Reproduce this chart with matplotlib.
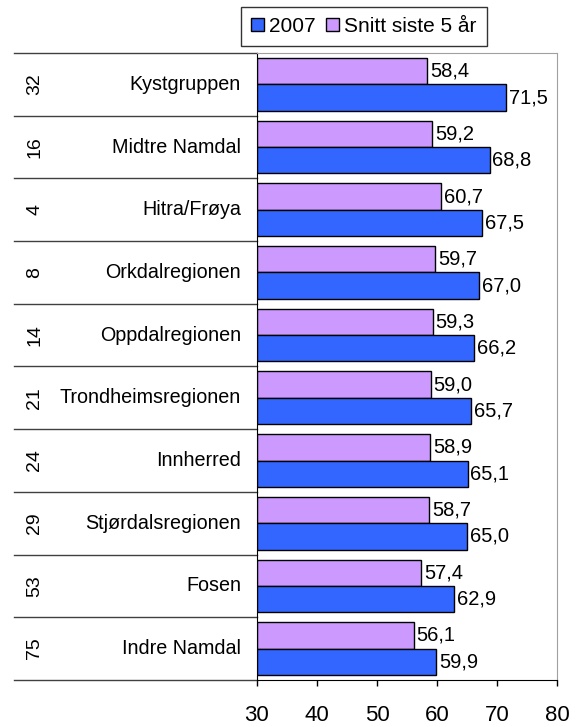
import matplotlib.pyplot as plt
from matplotlib.patches import Patch
from matplotlib.transforms import blended_transform_factory

plt.rcParams["font.family"] = ["Liberation Sans", "DejaVu Sans"]

regions = [
    "Kystgruppen", "Midtre Namdal", "Hitra/Frøya", "Orkdalregionen",
    "Oppdalregionen", "Trondheimsregionen", "Innherred", "Stjørdalsregionen",
    "Fosen", "Indre Namdal",
]
counts = [32, 16, 4, 8, 14, 21, 24, 29, 53, 75]
values_2007 = [71.5, 68.8, 67.5, 67.0, 66.2, 65.7, 65.1, 65.0, 62.9, 59.9]
values_avg5 = [58.4, 59.2, 60.7, 59.7, 59.3, 59.0, 58.9, 58.7, 57.4, 56.1]
x_ticks = [30, 40, 50, 60, 70, 80]

blue = "#3366FF"
lavender = "#CC99FF"

fig = plt.figure(figsize=(5.81, 7.27), dpi=100)
ax = fig.add_axes([0.4423, 0.0647, 0.5164, 0.8624])

n = len(regions)
bar_h = 0.42
for i in range(n):
    ax.barh(i + 0.5 - bar_h / 2, values_avg5[i] - 30, left=30, height=bar_h,
            color=lavender, edgecolor="black", linewidth=1)
    ax.barh(i + 0.5 + bar_h / 2, values_2007[i] - 30, left=30, height=bar_h,
            color=blue, edgecolor="black", linewidth=1)
    ax.text(values_avg5[i] + 0.45, i + 0.5 - bar_h / 2, f"{values_avg5[i]:.1f}".replace(".", ","),
            va="center", ha="left", fontsize=14.5)
    ax.text(values_2007[i] + 0.45, i + 0.5 + bar_h / 2, f"{values_2007[i]:.1f}".replace(".", ","),
            va="center", ha="left", fontsize=14.5)

ax.set_xlim(30, 80)
ax.set_ylim(n, 0)
ax.set_xticks(x_ticks)
ax.set_xticklabels([str(t) for t in x_ticks], fontsize=16)
ax.tick_params(axis="x", direction="out", length=4, pad=14, width=1)
ax.set_yticks([])

for side in ("left", "bottom"):
    ax.spines[side].set_color("black")
for side in ("top", "right"):
    ax.spines[side].set_color("#A0A0A0")

# row table on the left: separators, counts and region names
trans = blended_transform_factory(ax.transAxes, ax.transData)
for k in range(n + 1):
    ax.plot([-0.81, 0], [k, k], color="#404040", linewidth=1,
            transform=trans, clip_on=False)
for i in range(n):
    ax.text(-0.74, i + 0.5, str(counts[i]), rotation=90, ha="center",
            va="center", fontsize=14, transform=trans)
    ax.text(-0.053, i + 0.5, regions[i], ha="right", va="center",
            fontsize=14.2, transform=trans)

handles = [
    Patch(facecolor=blue, edgecolor="black", label="2007"),
    Patch(facecolor=lavender, edgecolor="black", label="Snitt siste 5 år"),
]
leg = fig.legend(handles=handles, loc="center", bbox_to_anchor=(0.626, 0.9635),
                 ncol=2, fontsize=15, frameon=True, fancybox=False,
                 handlelength=0.6, handleheight=0.6, handletextpad=0.25,
                 columnspacing=0.5, borderpad=0.5, borderaxespad=0)
leg.get_frame().set_edgecolor("black")
leg.get_frame().set_linewidth(1)

fig.savefig("out.png", dpi=100)
